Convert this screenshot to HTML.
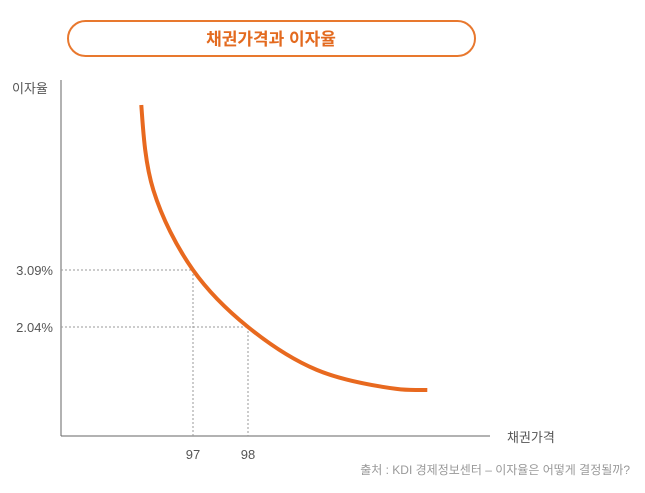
<!DOCTYPE html>
<html><head><meta charset="utf-8"><style>
body{margin:0;background:#fff;}
svg{display:block;font-family:"Liberation Sans","Noto Sans CJK KR",sans-serif;}
</style></head><body>
<svg id="chart" width="645" height="493" viewBox="0 0 645 493">
  <rect x="68" y="21" width="407" height="35" rx="17.5" fill="#fff" stroke="#e8782e" stroke-width="2"/>
  <text x="271" y="45" text-anchor="middle" font-size="17" font-weight="bold" fill="#e36a1f">채권가격과 이자율</text>
  <line x1="61" y1="80" x2="61" y2="436" stroke="#666" stroke-width="1"/>
  <line x1="61" y1="436" x2="490" y2="436" stroke="#666" stroke-width="1"/>
  <text x="12" y="93" font-size="13" fill="#555">이자율</text>
  <text x="507" y="442" font-size="13" fill="#555">채권가격</text>
  <g id="guides"></g>
  <path id="curve" fill="none" stroke="#e8691f" stroke-width="4"/>
  <text x="630" y="474" text-anchor="end" font-size="12" fill="#999">출처 : KDI 경제정보센터 – 이자율은 어떻게 결정될까?</text>
</svg>
<script>
const prices=[96.06,96.28,97,98,99.25,100.70,101.26];
const yields=[6.13,4.56,3.09,2.04,1.25,0.90,0.88];
const markPrices=[97,98];
const markYields=[3.09,2.04];
const yTickLabels=["3.09%","2.04%"];
const xTickLabels=["97","98"];
function xs(p){return 193+(p-97)*55;}
function ys(v){return 270-(v-3.09)*54.29;}
const svg=document.getElementById('chart');
const NS='http://www.w3.org/2000/svg';
const P=prices.map((p,i)=>[xs(p),ys(yields[i])]);
const n=P.length;
const ext=[[P[0][0],P[0][1]-60],...P,[P[n-1][0]+60,P[n-1][1]]];
function dist(a,b){return Math.pow(Math.hypot(a[0]-b[0],a[1]-b[1]),0.5);}
let d='M'+P[0][0].toFixed(2)+','+P[0][1].toFixed(2);
for(let i=1;i<ext.length-2;i++){
  const p0=ext[i-1],p1=ext[i],p2=ext[i+1],p3=ext[i+2];
  const d1=dist(p0,p1),d2=dist(p1,p2),d3=dist(p2,p3);
  const c1=[0,1].map(k=>(d1*d1*p2[k]-d2*d2*p0[k]+(2*d1*d1+3*d1*d2+d2*d2)*p1[k])/(3*d1*(d1+d2)));
  const c2=[0,1].map(k=>(d3*d3*p1[k]-d2*d2*p3[k]+(2*d3*d3+3*d3*d2+d2*d2)*p2[k])/(3*d3*(d3+d2)));
  d+=' C'+c1.map(v=>v.toFixed(2)).join(',')+' '+c2.map(v=>v.toFixed(2)).join(',')+' '+p2.map(v=>v.toFixed(2)).join(',');
}
document.getElementById('curve').setAttribute('d',d);
const g=document.getElementById('guides');
markPrices.forEach((p,i)=>{
  const x=xs(p),y=ys(markYields[i]);
  const hl=document.createElementNS(NS,'line');
  hl.setAttribute('x1',61);hl.setAttribute('x2',x);hl.setAttribute('y1',y);hl.setAttribute('y2',y);
  hl.setAttribute('stroke','#999');hl.setAttribute('stroke-dasharray','2,2');
  
  
  g.appendChild(hl);
  const v=document.createElementNS(NS,'line');
  v.setAttribute('x1',x);v.setAttribute('x2',x);v.setAttribute('y1',y);v.setAttribute('y2',436);
  v.setAttribute('stroke','#999');v.setAttribute('stroke-dasharray','2,2');
  
  
  g.appendChild(v);
  const yt=document.createElementNS(NS,'text');
  yt.setAttribute('x',53);yt.setAttribute('y',y+5);yt.setAttribute('text-anchor','end');
  yt.setAttribute('font-size','13');yt.setAttribute('fill','#555');
  yt.textContent=yTickLabels[i];
  
  
  svg.appendChild(yt);
  const xt=document.createElementNS(NS,'text');
  xt.setAttribute('x',x);xt.setAttribute('y',459);xt.setAttribute('text-anchor','middle');
  xt.setAttribute('font-size','13');xt.setAttribute('fill','#555');
  xt.textContent=xTickLabels[i];
  
  
  svg.appendChild(xt);
});
</script>
</body></html>
